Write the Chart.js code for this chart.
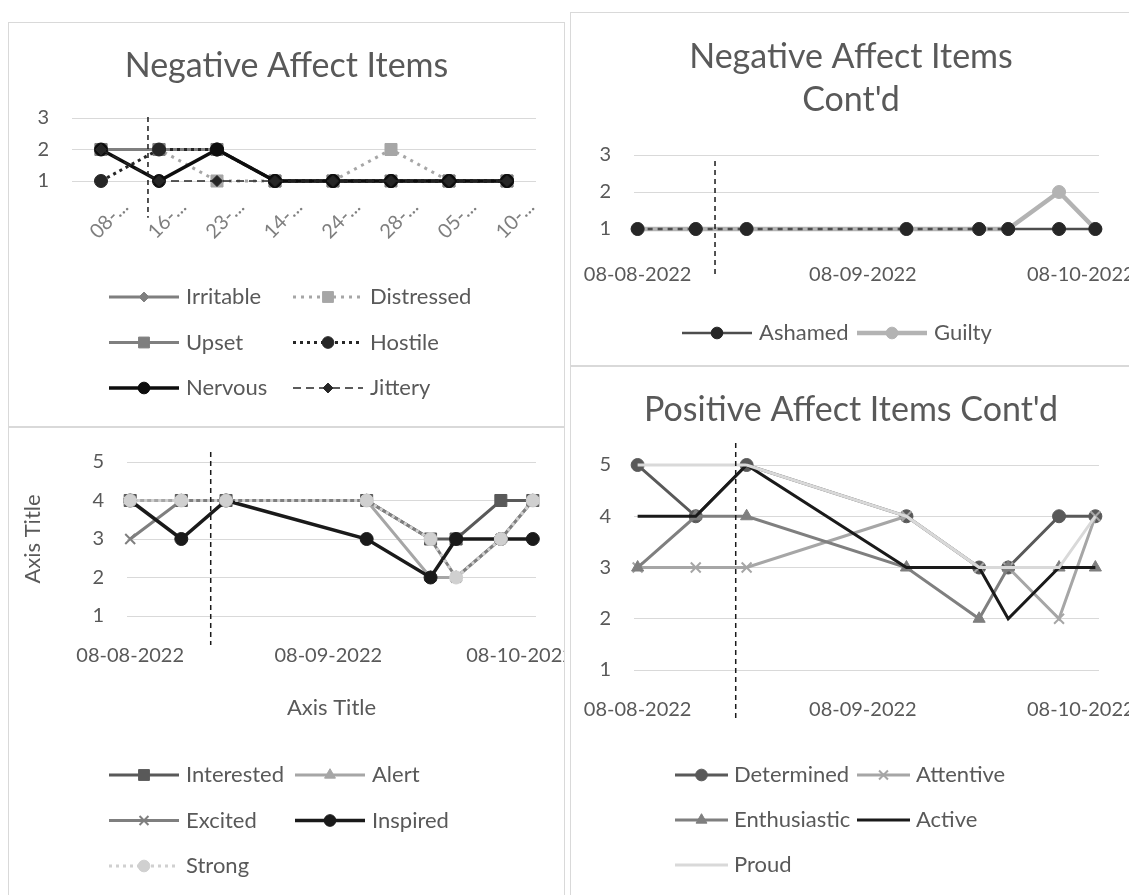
<!DOCTYPE html>
<html>
<head>
<meta charset="utf-8">
<script src="https://cdn.jsdelivr.net/npm/chart.js@4.4.0/dist/chart.umd.min.js"></script>
<style>
  html, body { margin: 0; padding: 0; background: #fff; }
  body { width: 1129px; height: 895px; position: relative; overflow: hidden; }
  .panel { position: absolute; overflow: hidden; background: #fff; }
  .panel canvas { position: absolute; top: 0; }
  .frame { position: absolute; left: 0; top: 0; right: 0; bottom: 0; border: 1px solid #d9d9d9; }
</style>
</head>
<body>
<div class="panel" style="left:8px;top:22px;width:557px;height:405px">
  <canvas id="c1" width="557" height="405" style="left:0"></canvas><div class="frame"></div>
</div>
<div class="panel" style="left:570px;top:12px;width:562px;height:354px">
  <canvas id="c2" width="582" height="354" style="left:-10px"></canvas><div class="frame"></div>
</div>
<div class="panel" style="left:8px;top:427px;width:557px;height:470px">
  <canvas id="c3" width="568" height="468" style="left:0"></canvas><div class="frame"></div>
</div>
<div class="panel" style="left:570px;top:366px;width:562px;height:531px">
  <canvas id="c4" width="582" height="529" style="left:-10px"></canvas><div class="frame"></div>
</div>
<script>
// observation dates, shared by all four panels
const DATES = ['2022-08-08', '2022-08-16', '2022-08-23', '2022-09-14', '2022-09-24', '2022-09-28', '2022-10-05', '2022-10-10'];
const DATE_LABELS = ['08-08-2022', '16-08-2022', '23-08-2022', '14-09-2022', '24-09-2022', '28-09-2022', '05-10-2022', '10-10-2022'];
// major ticks on the date axes
const TICK_DATES = ['2022-08-08', '2022-09-08', '2022-10-08'];
const TICK_LABELS = ['08-08-2022', '08-09-2022', '08-10-2022'];

// Negative Affect Items
const irritable  = [2, 2, 2, 1, 1, 1, 1, 1];
const distressed = [2, 2, 1, 1, 1, 2, 1, 1];
const upset      = [2, 2, 2, 1, 1, 1, 1, 1];
const hostile    = [1, 2, 2, 1, 1, 1, 1, 1];
const nervous    = [2, 1, 2, 1, 1, 1, 1, 1];
const jittery    = [2, 1, 1, 1, 1, 1, 1, 1];

// Negative Affect Items Cont'd
const ashamed = [1, 1, 1, 1, 1, 1, 1, 1];
const guilty  = [1, 1, 1, 1, 1, 1, 2, 1];

// Positive Affect Items (no title)
const interested = [4, 4, 4, 4, 3, 3, 4, 4];
const alert      = [4, 4, 4, 4, 2, 2, 3, 4];
const excited    = [3, 4, 4, 4, 3, 2, 3, 4];
const inspired   = [4, 3, 4, 3, 2, 3, 3, 3];
const strong     = [4, 4, 4, 4, 3, 2, 3, 4];

// Positive Affect Items Cont'd
const determined   = [5, 4, 5, 4, 3, 3, 4, 4];
const attentive    = [3, 3, 3, 4, 3, 3, 2, 4];
const enthusiastic = [3, 4, 4, 3, 2, 3, 3, 3];
const active       = [4, 4, 5, 3, 3, 2, 3, 3];
const proud        = [5, 5, 5, 4, 3, 3, 3, 4];

// dashed intervention line: category index (first panel) or days after 08-08-2022
const MARK_NEG = 0.81;
const MARK_NEG2 = 10.65;
const MARK_POS = 12.6;
const MARK_POS2 = 13.5;

const FONT = "Lato, 'Open Sans', sans-serif";
const TEXT = '#595959';
const GRID = '#d9d9d9';
const CLEAR = 'rgba(0,0,0,0)';
Chart.defaults.font.family = FONT;
Chart.defaults.color = TEXT;

const DAY0 = Date.UTC(2022, 7, 8);
function dayNum(s) {
  const p = s.split('-').map(Number);
  return (Date.UTC(p[0], p[1] - 1, p[2]) - DAY0) / 864e5;
}
function onDates(vals) {
  return DATES.map((d, i) => ({ x: dayNum(d), y: vals[i] }));
}

// one line series, Excel-like look
function series(label, data, s) {
  return Object.assign({
    label: label,
    data: data,
    borderColor: s.color,
    backgroundColor: s.color,
    pointBackgroundColor: s.color,
    pointBorderColor: s.color,
    pointBorderWidth: 1,
    borderWidth: 3,
    borderDash: [],
    pointRadius: 6,
    pointStyle: 'circle',
    tension: 0,
    clip: false
  }, s);
}

// Excel style legend: fixed columns, line + marker + text
const gridLegend = {
  id: 'gridLegend',
  afterDraw(chart, args, o) {
    const ctx = chart.ctx;
    ctx.save();
    ctx.font = o.size + 'px ' + FONT;
    ctx.textBaseline = 'middle';
    chart.data.datasets.forEach((ds, i) => {
      const x = o.cols[i % o.cols.length];
      const y = o.top + Math.floor(i / o.cols.length) * o.rowGap;
      ctx.strokeStyle = ds.borderColor;
      ctx.lineWidth = ds.borderWidth;
      ctx.setLineDash(ds.borderDash || []);
      ctx.beginPath();
      ctx.moveTo(x, y);
      ctx.lineTo(x + o.symW, y);
      ctx.stroke();
      ctx.setLineDash([]);
      if (ds.pointRadius > 0) {
        ctx.fillStyle = ds.pointBackgroundColor;
        ctx.strokeStyle = ds.pointBorderColor;
        ctx.lineWidth = ds.pointBorderWidth;
        Chart.helpers.drawPoint(ctx, {
          pointStyle: ds.pointStyle, rotation: 0,
          radius: ds.pointRadius * 0.9, borderWidth: ds.pointBorderWidth
        }, x + o.symW / 2, y);
      }
      ctx.fillStyle = TEXT;
      ctx.fillText(ds.label, x + o.symW + o.gap, y);
    });
    ctx.restore();
  }
};

// vertical dashed marker placed on the x scale
const markLine = {
  id: 'markLine',
  afterDatasetsDraw(chart, args, o) {
    const ctx = chart.ctx;
    const px = chart.scales.x.getPixelForValue(o.at);
    ctx.save();
    ctx.strokeStyle = '#1a1a1a';
    ctx.lineWidth = 1.5;
    ctx.setLineDash([5, 4]);
    ctx.beginPath();
    ctx.moveTo(px, chart.scales.y.getPixelForValue(o.from));
    ctx.lineTo(px, chart.scales.y.getPixelForValue(o.to));
    ctx.stroke();
    ctx.restore();
  }
};

const TITLE_FONT = { family: FONT, size: 34, weight: 'normal', lineHeight: 1.265 };
const TICK_FONT = { family: FONT, size: 20 };
const LEGEND_SIZE = 22;

// value axis; the gap to the labels is an invisible tick mark
function yAxis(max, width) {
  return {
    min: 1, max: max,
    ticks: { stepSize: 1, padding: 0, color: TEXT, font: TICK_FONT },
    grid: { color: GRID, drawTicks: true, tickLength: 23, tickColor: CLEAR },
    border: { display: false },
    afterFit: s => { s.width = width; }
  };
}

// empty right-hand axis that only reserves room, so titles stay centred on the canvas
function spacer(width) {
  return {
    position: 'right',
    grid: { display: false },
    border: { display: false },
    ticks: { display: false },
    afterFit: s => { s.width = width; }
  };
}

function dateAxis(height, gap, extra) {
  return Object.assign({
    type: 'linear',
    min: -0.5, max: 63.5,
    grid: { display: true, drawOnChartArea: false, drawTicks: true, tickLength: gap, tickColor: CLEAR },
    border: { display: false },
    ticks: {
      autoSkip: false, maxRotation: 0, padding: 0, color: TEXT, font: TICK_FONT,
      callback: (v, i) => TICK_LABELS[i]
    },
    afterBuildTicks: s => { s.ticks = TICK_DATES.map(d => ({ value: dayNum(d) })); },
    afterFit: s => { s.height = height; }
  }, extra || {});
}

const common = {
  responsive: false,
  animation: false,
  events: [],
  layout: { padding: 0 }
};

// ---- Negative Affect Items ----
new Chart(document.getElementById('c1'), {
  type: 'line',
  data: {
    labels: DATE_LABELS,
    datasets: [
      series('Irritable', irritable, { color: '#7f7f7f', pointStyle: 'rectRot', pointRadius: 5.5, order: 0 }),
      series('Distressed', distressed, { color: '#a6a6a6', borderDash: [3, 5], pointStyle: 'rect', pointRadius: 8.5, order: -1 }),
      series('Upset', upset, { color: '#7f7f7f', pointStyle: 'rect', pointRadius: 8.5, order: -2 }),
      series('Hostile', hostile, { color: '#262626', borderDash: [3, 4], pointRadius: 6.5, order: -3 }),
      series('Nervous', nervous, { color: '#0d0d0d', borderWidth: 3.5, pointRadius: 6.5, order: -4 }),
      series('Jittery', jittery, { color: '#262626', borderWidth: 1.5, borderDash: [8, 5], pointStyle: 'rectRot', pointRadius: 5.5, order: -5 })
    ]
  },
  options: Object.assign({}, common, {
    plugins: {
      legend: { display: false },
      tooltip: { enabled: false },
      title: { display: true, text: 'Negative Affect Items', color: TEXT, font: TITLE_FONT, padding: { top: 22.5, bottom: 30.5 } },
      gridLegend: { cols: [101, 285], top: 275, rowGap: 45.5, symW: 70, gap: 7, size: LEGEND_SIZE },
      markLine: { at: MARK_NEG, from: 3.03, to: -0.17 }
    },
    scales: {
      x: {
        offset: true,
        grid: { display: true, drawOnChartArea: false, drawTicks: true, tickLength: 14, tickColor: CLEAR },
        border: { display: false },
        ticks: {
          autoSkip: false, minRotation: 45, maxRotation: 45, padding: 0, labelOffset: 24,
          color: '#7f7f7f', font: TICK_FONT,
          callback: function (v) { return this.getLabelForValue(v).slice(0, 3) + '...'; }
        },
        afterFit: s => { s.height = 246; }
      },
      y: yAxis(3, 64),
      y2: spacer(29)
    }
  }),
  plugins: [gridLegend, markLine]
});

// ---- Negative Affect Items Cont'd ----
new Chart(document.getElementById('c2'), {
  type: 'line',
  data: {
    datasets: [
      series('Ashamed', onDates(ashamed), {
        color: '#4d4d4d', borderWidth: 2.5, pointRadius: 6.5,
        pointBackgroundColor: '#262626', pointBorderColor: '#262626',
        segment: { borderDash: c => (c.p0DataIndex < 5 ? [5, 5] : undefined) }
      }),
      series('Guilty', onDates(guilty), { color: '#b3b3b3', borderWidth: 4.5, pointRadius: 6.5 })
    ]
  },
  options: Object.assign({}, common, {
    plugins: {
      legend: { display: false },
      tooltip: { enabled: false },
      title: { display: true, text: ['Negative Affect Items', "Cont'd"], color: TEXT, font: TITLE_FONT, padding: { top: 23.5, bottom: 33.5 } },
      gridLegend: { cols: [122, 297], top: 321, rowGap: 45, symW: 70, gap: 7, size: LEGEND_SIZE },
      markLine: { at: MARK_NEG2, from: 2.84, to: -0.27 }
    },
    scales: {
      x: dateAxis(137, 34),
      y: yAxis(3, 74),
      y2: spacer(43)
    }
  }),
  plugins: [gridLegend, markLine]
});

// ---- Positive Affect Items ----
new Chart(document.getElementById('c3'), {
  type: 'line',
  data: {
    datasets: [
      series('Interested', onDates(interested), { color: '#595959', pointStyle: 'rect', pointRadius: 8.5, order: 0 }),
      series('Alert', onDates(alert), { color: '#a6a6a6', pointStyle: 'triangle', pointRadius: 7, order: -1 }),
      series('Excited', onDates(excited), { color: '#7f7f7f', pointStyle: 'crossRot', pointBorderWidth: 2, pointRadius: 7, order: -2 }),
      series('Inspired', onDates(inspired), { color: '#1a1a1a', borderWidth: 3.5, pointRadius: 6.5, order: -3 }),
      series('Strong', onDates(strong), { color: '#d0d0d0', borderDash: [3, 4], pointRadius: 6.5, order: -4 })
    ]
  },
  options: Object.assign({}, common, {
    layout: { padding: { left: 0, right: 0, top: 35, bottom: 0 } },
    plugins: {
      legend: { display: false },
      tooltip: { enabled: false },
      gridLegend: { cols: [101, 287], top: 348, rowGap: 45.5, symW: 70, gap: 7, size: LEGEND_SIZE },
      markLine: { at: MARK_POS, from: 5.26, to: 0.25 }
    },
    scales: {
      x: dateAxis(279, 28, {
        title: { display: true, text: 'Axis Title', color: TEXT, font: { family: FONT, size: LEGEND_SIZE }, padding: { top: 0, bottom: 174 } }
      }),
      y: Object.assign(yAxis(5, 119), {
        title: { display: true, text: 'Axis Title', color: TEXT, font: { family: FONT, size: LEGEND_SIZE }, padding: { top: 12, bottom: 0 } }
      }),
      y2: spacer(40)
    }
  }),
  plugins: [gridLegend, markLine]
});

// ---- Positive Affect Items Cont'd ----
new Chart(document.getElementById('c4'), {
  type: 'line',
  data: {
    datasets: [
      series('Determined', onDates(determined), { color: '#595959', pointRadius: 6.5, order: 0 }),
      series('Attentive', onDates(attentive), { color: '#a6a6a6', pointStyle: 'crossRot', pointBorderWidth: 2, pointRadius: 7, order: -1 }),
      series('Enthusiastic', onDates(enthusiastic), { color: '#7f7f7f', pointStyle: 'triangle', pointRadius: 7, order: -2 }),
      series('Active', onDates(active), { color: '#1a1a1a', pointRadius: 0, order: -3 }),
      series('Proud', onDates(proud), { color: '#d9d9d9', pointRadius: 0, order: -4 })
    ]
  },
  options: Object.assign({}, common, {
    plugins: {
      legend: { display: false },
      tooltip: { enabled: false },
      title: { display: true, text: "Positive Affect Items Cont'd", color: TEXT, font: TITLE_FONT, padding: { top: 22.5, bottom: 33.5 } },
      gridLegend: { cols: [115, 297], top: 409, rowGap: 45, symW: 53, gap: 6, size: LEGEND_SIZE },
      markLine: { at: MARK_POS2, from: 5.43, to: 0.06 }
    },
    scales: {
      x: dateAxis(225, 28),
      y: yAxis(5, 74),
      y2: spacer(43)
    }
  }),
  plugins: [gridLegend, markLine]
});
</script>
</body>
</html>
